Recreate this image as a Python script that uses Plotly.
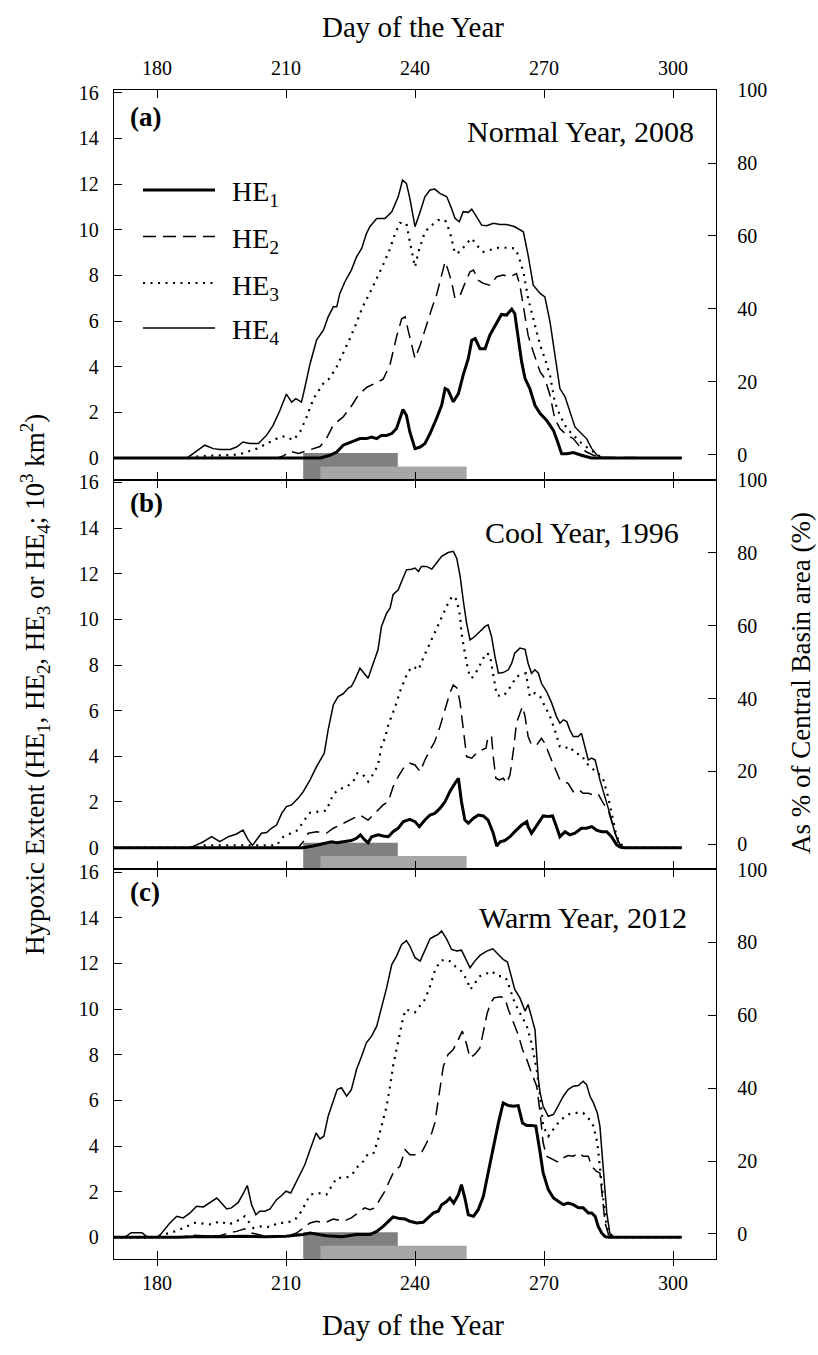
import plotly.graph_objects as go

# ---------------- axes ----------------
DAY_MIN, DAY_MAX = 170, 310
HE_MIN, HE_MAX = -0.95, 16.12
PCT_MIN, PCT_MAX = -6.86, 100.05
X_TICKS = [180, 210, 240, 270, 300]
HE_TICKS = [0, 2, 4, 6, 8, 10, 12, 14, 16]
PCT_TICKS = [0, 20, 40, 60, 80, 100]

# ---------------- data: (day of year, hypoxic extent 10^3 km^2) ----------------
A_HE4 = [(170,0),(187,0),(188.4,0.19),(191.1,0.56),(193.1,0.41),(194.6,0.37),(197,0.37),(198.5,0.48),(200,0.70),(201.6,0.63),(203.6,0.63),(205.5,1.0),(207,1.43),(208.6,2.09),(210.1,2.8),(211.3,2.45),(212.3,2.6),(213.6,2.45),(214.4,3.1),(215.6,4.13),(217.1,5.16),(218.7,5.6),(219.8,6.18),(221,6.62),(221.8,6.62),(222.5,7.2),(223.7,7.72),(225.2,8.23),(226.4,8.81),(227.6,9.18),(228.7,9.83),(229.5,10.13),(231.1,10.49),(233,10.49),(234.6,10.78),(236.1,11.44),(237.1,12.17),(238,12.03),(238.8,11.37),(240,10.13),(241.2,10.79),(242.3,11.44),(243.5,11.74),(244.6,11.78),(245.8,11.59),(247.4,11.44),(248.5,10.93),(249.3,10.5),(250.3,10.35),(251.2,10.79),(252.4,10.76),(253.2,10.9),(254.3,10.57),(255.5,10.2),(256.7,10.17),(258.2,10.28),(259.8,10.23),(261.3,10.23),(263.2,10.13),(265.2,9.91),(266.3,8.89),(267.5,7.57),(269.1,7.21),(270.2,7.06),(271.4,5.96),(272.5,4.65),(273.7,3.04),(274.9,2.68),(276,2.09),(277.2,1.36),(278.7,1.07),(279.9,0.85),(281.1,0.41),(282.2,0.15),(283,0.05),(284,0),(302,0)]
A_HE3 = [(170,0),(187.7,0),(188.5,0.05),(192,0.1),(196,0.12),(199,0.15),(200.8,0.26),(203.2,0.41),(206.3,0.70),(208.6,0.92),(209.8,0.95),(211.7,0.78),(213.3,1.15),(214.8,1.8),(216.4,2.6),(218.7,3.27),(220.2,3.5),(221.8,4.0),(223.3,4.6),(224.8,5.2),(226.4,5.92),(227.9,6.65),(229.5,7.23),(231,7.82),(232.6,8.47),(234.1,9.13),(235.3,9.79),(236.5,10.3),(238,10.28),(238.8,9.47),(240,8.37),(240.8,9.03),(242.3,9.91),(243.9,10.2),(245.4,10.42),(247,10.42),(248.1,9.91),(249.3,8.96),(250.5,9.03),(252,9.4),(253.2,9.62),(254.3,9.33),(255.9,9.03),(257.4,9.11),(259.4,9.21),(261.3,9.21),(263.2,9.18),(264,8.89),(265.2,8.16),(266.3,6.99),(267.5,6.11),(269.1,4.94),(270.2,4.36),(271.4,3.63),(272.5,2.46),(273.7,1.87),(275.3,1.29),(276.8,1.0),(278.4,0.70),(279.9,0.48),(281.5,0.26),(282.6,0.09),(283.5,0),(302,0)]
A_HE2 = [(170,0),(208,0),(209.5,0.1),(210.9,0.3),(212.9,0.2),(214.5,0.3),(216.4,0.44),(217.9,0.5),(219.4,0.85),(221,1.45),(223.3,1.8),(225.3,2.3),(226.8,2.75),(228.8,3.1),(231,3.3),(232.6,3.45),(234.2,4.1),(235.7,5.3),(236.9,6.1),(237.7,6.18),(238.4,5.6),(240,4.36),(241.2,4.94),(242.7,5.89),(243.9,6.55),(245,7.13),(246.2,7.94),(247,8.6),(247.7,8.23),(248.5,7.72),(249.3,6.99),(250.5,7.13),(251.6,7.65),(252.8,8.16),(253.6,8.23),(254.7,7.79),(255.9,7.65),(257.4,7.57),(259,7.94),(260.5,8.01),(262.1,7.94),(263.6,8.08),(264.4,7.57),(265.2,6.69),(266.3,5.38),(267.5,4.65),(269.1,3.77),(270.2,3.48),(271.4,2.75),(272.5,1.73),(273.7,1.29),(275.3,1.0),(276.8,0.85),(278.4,0.48),(279.9,0.26),(281.5,0.12),(283,0.03),(302,0)]
A_HE1 = [(170,0),(218,0),(220.2,0.12),(221.8,0.26),(223.3,0.56),(225.3,0.70),(227.2,0.85),(228.7,0.85),(229.9,0.92),(231.1,0.85),(232.2,0.99),(233.4,0.99),(234.6,1.07),(235.7,1.29),(236.5,1.7),(237.2,2.12),(238,1.87),(238.8,1.14),(240,0.41),(241.2,0.48),(242.3,0.63),(243.5,1.07),(245,1.73),(246.2,2.31),(247,3.04),(247.7,2.97),(248.9,2.46),(250.1,2.82),(251.2,3.63),(252.4,4.36),(253.2,5.16),(254,5.23),(255.1,4.79),(256.3,4.79),(257.4,5.38),(259,5.96),(260.1,6.29),(261.3,6.26),(262.5,6.52),(263.2,6.33),(264,5.23),(264.8,4.21),(265.6,3.48),(266.7,3.04),(267.9,2.31),(269.1,1.95),(270.6,1.65),(272.2,1.21),(273.3,0.63),(274.1,0.19),(275.3,0.19),(276.8,0.24),(278.7,0.12),(279.9,0.05),(281,0),(302,0)]

B_HE4 = [(170,0),(187.7,0),(189.2,0.12),(190.8,0.26),(192.7,0.48),(194.6,0.26),(196.6,0.48),(198.5,0.6),(200,0.77),(201.2,0.34),(202.2,0.1),(203.2,0.37),(204.3,0.63),(205.5,0.66),(206.6,0.85),(207.8,0.99),(209,1.5),(210.1,1.8),(211.3,1.87),(212.8,2.16),(214,2.45),(215.6,2.97),(217.1,3.55),(218.9,4.14),(219.8,5.16),(221,6.25),(222.1,6.62),(223.3,6.74),(224.5,6.99),(225.2,7.06),(226,7.35),(227.2,7.86),(228.1,7.67),(229.1,7.42),(230.3,8.08),(231.4,8.67),(232.2,9.69),(233.4,10.27),(234.2,10.49),(234.9,11.08),(236.1,11.3),(237.3,11.81),(238,12.17),(239.2,12.2),(240,12.25),(240.8,12.1),(241.5,12.32),(242.7,12.32),(243.9,12.2),(245,12.47),(246.2,12.76),(247.7,12.93),(248.9,12.98),(249.7,12.68),(250.5,11.88),(251.2,10.86),(252,9.83),(252.8,9.1),(253.9,9.25),(255.1,9.47),(256.3,9.69),(257,9.76),(257.8,9.25),(258.6,8.37),(259.4,7.64),(260.5,7.67),(261.7,7.79),(262.5,8.08),(263.2,8.52),(264.4,8.74),(265.6,8.69),(266.3,8.08),(267.1,7.64),(267.9,7.79),(268.7,7.64),(269.4,7.2),(270.6,6.84),(271.8,6.33),(272.9,5.74),(273.7,5.45),(274.5,5.6),(275.3,5.52),(276,5.16),(276.8,4.87),(278,4.87),(278.7,5.01),(279.5,4.43),(280.3,3.84),(281.1,3.92),(281.9,3.84),(283,2.97),(284.2,2.24),(285.3,1.5),(286.5,0.63),(287.7,0.12),(288.5,0),(302,0)]
B_HE3 = [(170,0),(189,0),(191,0.1),(206,0.1),(207.8,0.1),(209.4,0.48),(211.3,0.63),(212.8,0.77),(214,1.14),(215.6,1.53),(217.5,1.58),(219.4,1.62),(221,2.35),(222.5,2.56),(224.1,2.67),(225.6,2.89),(226.6,3.26),(227.8,3.23),(229.1,2.89),(230.4,3.26),(231.4,3.62),(232.2,4.43),(233,4.79),(233.8,5.38),(234.5,5.74),(235.3,6.11),(236.5,6.84),(237.7,7.42),(238.4,7.72),(239.6,7.94),(240.8,7.79),(241.9,8.3),(243.1,8.81),(244.3,9.25),(245.4,9.76),(246.6,10.27),(247.7,10.71),(248.7,11.03),(249.7,10.86),(250.5,10.13),(250.8,9.4),(251.6,8.52),(252.4,7.72),(253.2,7.42),(254.3,7.72),(255.5,8.15),(256.5,8.52),(257.4,8.45),(258.2,7.5),(259,6.69),(260.1,6.62),(261.2,6.77),(262.5,7.13),(263.6,7.5),(264.8,7.57),(265.8,7.64),(266.7,6.62),(267.9,6.77),(269.1,6.62),(270.2,6.18),(271.4,5.74),(272.5,5.16),(273.7,4.43),(274.9,4.36),(276,4.43),(277.2,4.14),(278.7,4.06),(279.9,3.7),(281.1,3.48),(282.6,3.26),(283.8,2.97),(284.9,2.24),(286.1,1.21),(286.9,0.48),(288.1,0.12),(289,0),(302,0)]
B_HE2 = [(170,0),(212.8,0),(214,0.26),(215.2,0.63),(217.1,0.7),(219.4,0.63),(221,0.85),(223.3,1.07),(225.6,1.29),(227.2,1.43),(229.1,1.21),(230.7,1.5),(232.6,1.87),(233.8,2.02),(234.9,2.67),(236.1,3.11),(237.3,3.48),(238.8,3.7),(240,3.62),(241.2,3.33),(242.3,3.84),(243.5,4.28),(244.6,4.65),(245.8,5.3),(247,6.03),(248.1,6.77),(248.9,7.13),(249.8,6.99),(250.5,6.33),(251.2,5.3),(252,3.99),(253.2,3.92),(254.3,4.14),(255.5,4.28),(256.5,4.36),(257,4.87),(257.8,4.87),(258.2,3.99),(258.8,3.04),(259.6,2.97),(260.5,3.04),(261.3,2.82),(262.1,3.19),(262.9,4.28),(263.6,5.45),(264.4,5.89),(265,6.18),(265.6,5.74),(266.3,4.87),(267.1,4.5),(268.3,4.5),(269.4,4.79),(270.2,4.57),(271.4,3.99),(272.5,3.48),(273.7,2.97),(274.5,2.89),(275.6,2.82),(276.8,2.45),(278,2.56),(279.1,2.38),(280.3,2.38),(281.5,2.31),(282.6,2.35),(283.8,1.94),(284.9,1.65),(286.1,0.92),(287.3,0.19),(288.1,0.05),(289,0),(302,0)]
B_HE1 = [(170,0),(214,0),(216.3,0.07),(218.7,0.16),(220.6,0.26),(221.8,0.22),(223.3,0.26),(225.2,0.31),(226.4,0.41),(227.3,0.56),(228.3,0.34),(229.1,0.22),(229.9,0.48),(231.4,0.56),(232.6,0.51),(233.8,0.48),(234.9,0.70),(236.1,0.85),(237.3,1.14),(238.8,1.24),(240,1.14),(241,0.92),(242.3,1.21),(243.5,1.43),(244.6,1.5),(245.8,1.72),(247,2.02),(248.1,2.45),(249.3,2.82),(250.1,3.04),(250.8,2.02),(251.6,1.21),(252.4,1.07),(253.6,1.29),(254.7,1.43),(255.9,1.39),(257,1.21),(258.2,0.63),(259,0.07),(259.8,0.26),(260.9,0.31),(262.1,0.48),(263.2,0.70),(264.8,0.99),(266,1.14),(266.3,0.92),(267.1,0.63),(267.9,0.85),(269.1,1.21),(269.8,1.39),(271,1.36),(272,1.39),(272.9,0.92),(273.7,0.48),(274.9,0.7),(276,0.56),(277.2,0.63),(278.7,0.85),(279.9,0.85),(281.1,0.92),(282.2,0.77),(283.4,0.70),(284.6,0.70),(285.7,0.48),(286.9,0.12),(287.7,0.03),(288.5,0),(302,0)]

C_HE4 = [(170,0),(172.5,0),(174,0.2),(176.5,0.2),(177.5,0.05),(179,0),(180.5,0.05),(181.5,0.3),(183,0.63),(184.6,0.92),(186.1,0.85),(187.7,1.07),(189.2,1.36),(190.8,1.33),(192.3,1.53),(193.9,1.72),(195,1.5),(196.2,1.24),(197.3,1.29),(198.9,1.53),(200.1,1.94),(201,2.27),(202,1.43),(203,0.99),(203.9,1.14),(205.1,1.14),(206.3,1.24),(207.8,1.65),(209,1.83),(210,2.02),(211.1,1.94),(212.1,2.31),(213.2,2.75),(214.4,3.19),(215.6,3.84),(217,4.57),(217.9,4.31),(218.8,4.43),(219.8,5.3),(221,6.03),(221.9,6.47),(222.9,6.55),(224.1,6.18),(225.2,6.47),(226.4,7.35),(227.6,7.94),(228.7,8.52),(229.9,8.81),(231.1,9.25),(232.2,10.05),(233.4,10.93),(234.6,11.95),(235.7,12.32),(236.9,12.83),(238,13.0),(238.8,12.76),(240,12.25),(241.2,12.1),(242.3,12.54),(243.5,13.08),(244.6,13.2),(245.4,13.27),(246.2,13.42),(247.4,13.05),(248.5,12.61),(249.7,12.54),(250.8,12.58),(251.6,12.25),(252.8,11.81),(253.9,12.1),(255.1,12.35),(256.7,12.54),(258.1,12.64),(259.4,12.39),(260.5,12.17),(261.5,12.06),(262.1,11.59),(263.2,10.86),(264.4,10.49),(265.6,9.91),(266.3,10.2),(267.1,9.69),(267.9,9.1),(268.7,6.91),(269.1,6.33),(269.8,5.74),(271,5.3),(272.2,5.38),(273.3,5.74),(274.5,6.18),(275.6,6.47),(276.8,6.62),(278,6.65),(279.1,6.84),(279.9,6.69),(280.7,6.18),(281.5,5.89),(282.4,5.45),(283,4.87),(283.4,3.99),(283.9,2.53),(284.6,1.07),(285.3,0.19),(286.1,0.03),(287,0),(302,0)]
C_HE3 = [(170,0),(179,0),(181,0.1),(183,0.19),(184.9,0.31),(186.9,0.48),(188.8,0.63),(190.8,0.6),(192.7,0.56),(194.6,0.70),(196.6,0.56),(198.5,0.70),(200.4,0.92),(202.4,0.41),(204.3,0.48),(206.3,0.45),(208.2,0.63),(210.1,0.63),(212.1,0.77),(213.6,1.14),(215.6,1.87),(217.5,1.94),(219.4,1.87),(220.6,2.24),(221.8,2.6),(223.7,2.6),(225.2,2.7),(226.4,3.04),(228,3.33),(229.1,3.67),(230.4,3.7),(231.4,4.28),(232.6,5.16),(233.4,5.74),(234.2,6.62),(234.9,7.5),(235.7,8.23),(236.5,8.96),(237.3,9.69),(238,10.0),(238.8,9.91),(240,9.86),(241.2,10.13),(242.3,10.42),(243.5,11.0),(244.6,11.66),(245.8,12.1),(247,12.17),(248.1,12.1),(249.7,11.81),(250.8,11.66),(252,11.3),(252.9,10.86),(253.9,11.15),(255.1,11.44),(256.3,11.52),(257.8,11.66),(259.4,11.44),(260.5,11.44),(261.3,11.3),(262.1,10.86),(263.2,10.27),(264.4,9.83),(266,9.25),(267.1,8.52),(268.3,7.35),(269.1,6.18),(269.8,4.87),(271,4.43),(272.2,4.72),(273.3,5.01),(274.5,5.23),(275.6,5.38),(276.8,5.45),(278,5.45),(279.1,5.45),(280.3,5.23),(281.5,4.87),(282.4,4.14),(283,2.97),(283.8,1.65),(284.6,0.48),(285.3,0.12),(286.1,0.02),(287,0),(302,0)]
C_HE2 = [(170,0),(186,0),(187.7,0.1),(190.8,0.07),(194.6,0.07),(196.6,0.19),(198.5,0.26),(200.4,0.37),(202,0.19),(204.7,0.07),(210,0.03),(212.5,0.19),(214,0.41),(215.6,0.63),(217.1,0.7),(219,0.63),(221,0.80),(223.3,0.70),(225.2,0.85),(226.8,1.07),(228.3,1.29),(229.5,1.21),(230.7,1.29),(231.8,1.65),(233,2.02),(234.2,2.53),(235.1,2.89),(236.5,3.11),(237.7,3.84),(238.8,3.62),(240.4,3.62),(241.5,3.7),(242.7,4.14),(243.9,4.57),(244.6,5.01),(245.2,5.74),(245.8,6.62),(246.6,7.5),(247.7,8.01),(248.9,8.23),(250.1,8.67),(251,9.03),(251.9,8.52),(252.8,7.86),(253.9,8.01),(255.1,8.3),(256,9.1),(256.8,9.83),(257.6,10.27),(258.4,10.49),(259.8,10.54),(260.9,10.49),(261.7,9.98),(262.9,9.4),(264,8.88),(265,8.23),(266,7.79),(267.1,7.2),(268.3,6.62),(269.1,5.45),(269.8,4.14),(270.6,3.55),(272.2,3.4),(273.3,3.29),(274.5,3.48),(275.6,3.58),(276.8,3.55),(278.2,3.7),(279.1,3.55),(280.3,3.55),(281.1,3.11),(282.2,2.89),(283,2.82),(283.6,1.8),(284.2,0.63),(285,0.12),(285.7,0.02),(287,0),(302,0)]
C_HE1 = [(170,0),(185,0),(190,0.04),(195,0.02),(200,0.05),(205,0.03),(210,0.05),(214,0.12),(215.6,0.19),(217.1,0.15),(219.4,0.07),(223,0.03),(226.4,0.12),(229.5,0.12),(231.1,0.26),(232.6,0.48),(233.8,0.7),(234.9,0.89),(236.5,0.82),(237.7,0.8),(238.8,0.7),(240.4,0.63),(241.9,0.66),(243.1,0.85),(244.3,1.07),(245.4,1.14),(246.2,1.43),(247.4,1.58),(248.1,1.72),(249,1.5),(250.1,1.87),(250.8,2.31),(251.6,1.72),(252.4,0.99),(253.6,0.92),(254.7,1.21),(255.9,1.8),(257,2.82),(258.2,3.99),(259.4,5.01),(260.5,5.89),(261.7,5.77),(262.9,5.74),(264,5.77),(265,5.01),(266,4.9),(267.1,4.9),(268.1,4.87),(269.1,3.7),(269.8,2.82),(271,2.09),(272.2,1.72),(273.3,1.58),(274.5,1.43),(275.6,1.5),(276.8,1.43),(278,1.29),(279.1,1.29),(280.3,1.07),(281.1,1.07),(281.9,0.92),(282.6,0.48),(283.4,0.19),(284.2,0.03),(285,0),(302,0)]

# sampling periods (grey bars beneath the zero line)
BAR_START = [214, 218]
BAR_END = [236, 252]
BAR_TOP = [0.22, -0.37]
BAR_COLOR = ["#808080", "#a6a6a6"]

SERIES_NAMES = ["HE<sub>1</sub>", "HE<sub>2</sub>", "HE<sub>3</sub>", "HE<sub>4</sub>"]
PANEL_LABELS = ["(a)", "(b)", "(c)"]
PANEL_TITLES = ["Normal Year, 2008", "Cool Year, 1996", "Warm Year, 2012"]
PANEL_DATA = [
    [A_HE1, A_HE2, A_HE3, A_HE4],
    [B_HE1, B_HE2, B_HE3, B_HE4],
    [C_HE1, C_HE2, C_HE3, C_HE4],
]

# ---------------- styles / layout ----------------
W, H = 818, 1355
ML, MR, MT, MB = 114, 102, 90, 96
PW, PH = W - ML - MR, H - MT - MB
FONT = "Liberation Serif"
STYLES = [
    dict(color="black", width=3.0, dash="solid"),
    dict(color="black", width=1.5, dash="13px,7px"),
    dict(color="black", width=2.2, dash="2px,5.5px"),
    dict(color="black", width=1.5, dash="solid"),
]

def px(x):
    return (x - ML) / PW

def py(y):
    return 1 - (y - MT) / PH

fig = go.Figure()
domains = [[2/3, 1.0], [1/3, 2/3], [0.0, 1/3]]

for p, series in enumerate(PANEL_DATA):
    xa = "x" if p == 0 else f"x{p+1}"
    ya = "y" if p == 0 else f"y{p+1}"
    for s in (3, 2, 1, 0):
        pts = series[s]
        xaxis_use = xa
        if p == 2 and s == 0:
            xaxis_use = "x4"  # bottom labelled axis overlays panel (c)
        fig.add_trace(go.Scatter(
            x=[d for d, v in pts], y=[v for d, v in pts],
            mode="lines", line=STYLES[s], xaxis=xaxis_use, yaxis=ya,
            showlegend=False, hoverinfo="skip"))
    for b in range(len(BAR_START)):
        fig.add_shape(type="rect", xref=xa, yref=ya,
                      x0=BAR_START[b], x1=BAR_END[b], y0=HE_MIN, y1=BAR_TOP[b],
                      fillcolor=BAR_COLOR[b], line=dict(width=0), layer="below")

axis_common = dict(showline=True, linecolor="black", linewidth=1.3,
                   showgrid=False, zeroline=False,
                   tickfont=dict(family=FONT, size=20, color="black"),
                   ticks="inside", ticklen=8, tickwidth=1.2, tickcolor="black")

layout = dict(
    width=W, height=H,
    margin=dict(l=ML, r=MR, t=MT, b=MB, pad=0),
    paper_bgcolor="white", plot_bgcolor="white",
    font=dict(family=FONT, color="black"),
    showlegend=False,
)
for p in range(3):
    xk = "xaxis" if p == 0 else f"xaxis{p+1}"
    yk = "yaxis" if p == 0 else f"yaxis{p+1}"
    ya = "y" if p == 0 else f"y{p+1}"
    xa = "x" if p == 0 else f"x{p+1}"
    layout[xk] = dict(axis_common, domain=[0, 1], anchor=ya, range=[DAY_MIN, DAY_MAX],
                      tickvals=X_TICKS, mirror="ticks", linewidth=0.8,
                      side="top" if p == 0 else "bottom",
                      showticklabels=(p == 0), ticklabelstandoff=6)
    layout[yk] = dict(axis_common, domain=domains[p], anchor=xa,
                      range=[HE_MIN, HE_MAX], tickvals=HE_TICKS,
                      ticklabelstandoff=10)
    layout[f"yaxis{p+4}"] = dict(axis_common, overlaying=ya, anchor=xa, side="right",
                                 range=[PCT_MIN, PCT_MAX], tickvals=PCT_TICKS,
                                 ticklabelstandoff=16)
layout["xaxis4"] = dict(axis_common, overlaying="x3", anchor="y3", side="bottom",
                        range=[DAY_MIN, DAY_MAX], tickvals=X_TICKS,
                        ticks="outside", ticklen=6, showline=False, ticklabelstandoff=0)
fig.update_layout(**layout)

# invisible helpers so the right-hand percentage axes are drawn
for p in range(3):
    xa = "x" if p == 0 else f"x{p+1}"
    fig.add_trace(go.Scatter(x=[DAY_MIN], y=[PCT_MIN], xaxis=xa, yaxis=f"y{p+4}",
                             mode="markers", marker=dict(opacity=0, size=1),
                             showlegend=False, hoverinfo="skip"))

ann = []
def text(x, y, s, size, xanchor="center", yanchor="middle", angle=0, bold=False):
    ann.append(dict(x=px(x), y=py(y), xref="paper", yref="paper", text=("<b>%s</b>" % s) if bold else s,
                    showarrow=False, xanchor=xanchor, yanchor=yanchor, textangle=angle,
                    font=dict(family=FONT, size=size, color="black")))

text(413, 27, "Day of the Year", 29)
text(413, 1325, "Day of the Year", 29)
text(35, 685, "Hypoxic Extent (HE<sub>1</sub>, HE<sub>2</sub>, HE<sub>3</sub> or HE<sub>4</sub>; 10<sup>3</sup> km<sup>2</sup>)", 27, angle=-90)
text(801, 683, "As % of Central Basin area (%)", 27, angle=-90)

panel_label_y = [117, 503, 892]
panel_title_y = [132, 532, 917]
panel_title_x = [465, 483, 477]
for p in range(3):
    text(128, panel_label_y[p], PANEL_LABELS[p], 27, xanchor="left", bold=True)
    text(panel_title_x[p], panel_title_y[p], PANEL_TITLES[p], 30, xanchor="left")

# legend (panel a)
legend_rows = [190, 236.5, 283, 328]
for s in range(4):
    st = STYLES[s]
    fig.add_shape(type="line", xref="paper", yref="paper",
                  x0=px(143), x1=px(215), y0=py(legend_rows[s]), y1=py(legend_rows[s]),
                  line=dict(color="black", width=st["width"], dash=st["dash"]))
    text(230, legend_rows[s] + 4, SERIES_NAMES[s], 28, xanchor="left")

fig.update_layout(annotations=ann)
fig.write_html("out.html")
